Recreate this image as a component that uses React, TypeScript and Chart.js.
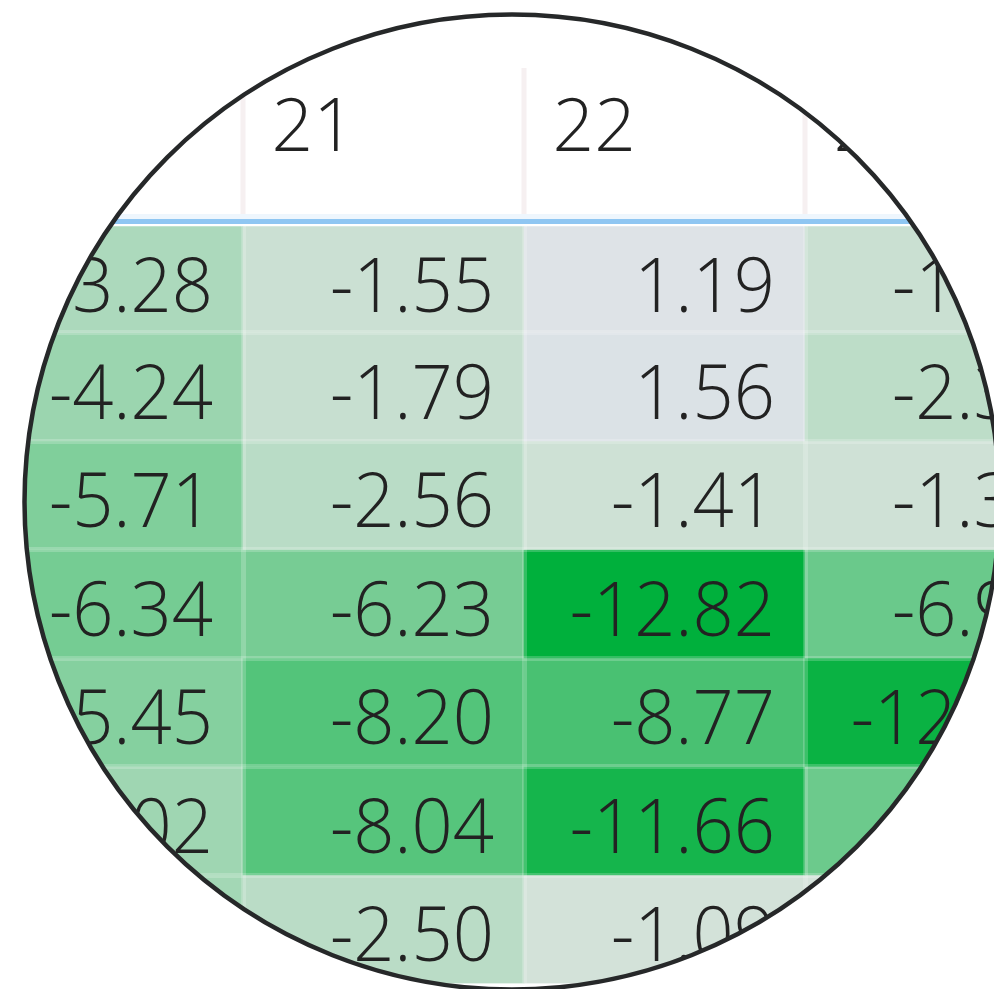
import React, { useEffect, useRef } from "react";
import { Chart, registerables } from "chart.js";

Chart.register(...registerables);

// Column headers (day numbers) and the cell values of each column, top row first
const columns = ["20", "21", "22", "23"];
const col20 = [-3.28, -4.24, -5.71, -6.34, -5.45, -4.02, -3.78];
const col21 = [-1.55, -1.79, -2.56, -6.23, -8.2, -8.04, -2.5];
const col22 = [1.19, 1.56, -1.41, -12.82, -8.77, -11.66, -1.09];
const col23 = [-1.62, -2.35, -1.31, -6.93, -12.27, -6.83, -0.98];
const columnValues = [col20, col21, col22, col23];
const rowCount = 7;

const MIN_VALUE = -12.82;
const LOW = [0, 176, 60];
const MID = [231, 231, 232];
const HIGH = [155, 201, 222];

function cellColor(v: number): string {
  const from = MID;
  let to = LOW;
  let t = 0;
  if (v < 0) {
    t = Math.min(1, v / MIN_VALUE);
    to = LOW;
  } else {
    t = Math.min(1, v / 10);
    to = HIGH;
  }
  const c = from.map((f, i) => Math.round(f + (to[i] - f) * t));
  return `rgb(${c[0]},${c[1]},${c[2]})`;
}

const FONT_FAMILY = '"Open Sans", "Noto Sans", sans-serif';
const CELL_FONT_SIZE = 76;
const HEADER_FONT_SIZE = 73;

const CANVAS_W = 1124;
const CANVAS_H = 989;
const OFFSET_X = -38;

const tablePlugin = {
  id: "tableOverlay",
  afterDatasetsDraw(chart: any) {
    const ctx = chart.ctx;
    ctx.save();
    ctx.font = `300 ${CELL_FONT_SIZE}px ${FONT_FAMILY}`;
    ctx.fillStyle = "#222222";
    ctx.textAlign = "right";
    ctx.textBaseline = "alphabetic";
    chart.data.datasets.forEach((ds: any, r: number) => {
      const meta = chart.getDatasetMeta(r);
      meta.data.forEach((bar: any, c: number) => {
        const p = bar.getProps(["x", "y", "base", "width"], true);
        const v = columnValues[c][r];
        ctx.save();
        ctx.translate(p.x + p.width / 2 - 30, (p.y + p.base) / 2 + 32);
        ctx.scale(0.95, 1);
        ctx.fillText(v.toFixed(2), 0, 0);
        ctx.restore();
      });
    });
    ctx.restore();
  },
  afterDraw(chart: any) {
    const ctx = chart.ctx;
    const area = chart.chartArea;
    const xs = chart.scales.x;
    ctx.save();
    // header column separators
    ctx.fillStyle = "#f6f0f1";
    for (let i = 0; i < columns.length - 1; i++) {
      const bx = (xs.getPixelForValue(i) + xs.getPixelForValue(i + 1)) / 2;
      ctx.fillRect(bx - 2.5, 68, 5, area.top - 10 - 68);
    }
    // header bottom rule
    ctx.fillStyle = "#eef6fd";
    ctx.fillRect(0, area.top - 10, chart.width, 5);
    ctx.fillStyle = "#8fc6f2";
    ctx.fillRect(0, area.top - 5, chart.width, 5);

    // magnifier circle
    const cx = 512 - OFFSET_X;
    const cy = 502;
    const rad = 487.5;
    ctx.beginPath();
    ctx.rect(0, 0, chart.width, chart.height);
    ctx.arc(cx, cy, rad, 0, Math.PI * 2, true);
    ctx.fillStyle = "#ffffff";
    ctx.fill("evenodd");
    ctx.beginPath();
    ctx.arc(cx, cy, rad, 0, Math.PI * 2);
    ctx.lineWidth = 4.5;
    ctx.strokeStyle = "#262829";
    ctx.stroke();
    ctx.restore();
  },
};

export default function App() {
  const canvasRef = useRef<HTMLCanvasElement | null>(null);

  useEffect(() => {
    if (!canvasRef.current) return;
    const datasets = Array.from({ length: rowCount }, (_, r) => ({
      label: `row ${r + 1}`,
      data: columns.map(() => [r, r + 1]),
      backgroundColor: columnValues.map((col) => cellColor(col[r])),
      borderWidth: 0,
      borderSkipped: false,
      grouped: false,
      barPercentage: 1,
      categoryPercentage: 1,
    }));

    const separator = "rgba(255,255,255,0.2)";
    const chart = new Chart(canvasRef.current, {
      type: "bar",
      data: { labels: columns, datasets: datasets as any },
      options: {
        animation: false,
        responsive: false,
        maintainAspectRatio: false,
        devicePixelRatio: 1,
        events: [],
        layout: { padding: { top: 36.4, bottom: 5.5, left: 0, right: 0 } },
        plugins: {
          legend: { display: false },
          tooltip: { enabled: false },
        },
        scales: {
          x: {
            type: "category",
            position: "top",
            offset: true,
            grid: {
              display: true,
              offset: true,
              color: separator,
              lineWidth: 5,
              drawTicks: false,
              z: 1,
            },
            border: { display: false },
            ticks: {
              color: "#222222",
              font: { family: FONT_FAMILY, size: HEADER_FONT_SIZE, weight: "300" },
              align: "start",
              labelOffset: -112,
              padding: 50,
              maxRotation: 0,
              autoSkip: false,
            },
          },
          y: {
            type: "linear",
            reverse: true,
            min: 0,
            max: rowCount,
            grid: {
              display: true,
              color: (c: any) =>
                c.tick && (c.tick.value === 0 || c.tick.value === rowCount) ? "rgba(0,0,0,0)" : separator,
              lineWidth: 5,
              drawTicks: false,
              z: 1,
            },
            border: { display: false },
            ticks: { display: false, stepSize: 1 },
          },
        },
      } as any,
      plugins: [tablePlugin],
    });
    return () => chart.destroy();
  }, []);

  return (
    <div
      style={{
        position: "fixed",
        left: 0,
        top: 0,
        width: 994,
        height: 989,
        overflow: "hidden",
        background: "#ffffff",
      }}
    >
      <canvas
        ref={canvasRef}
        width={CANVAS_W}
        height={CANVAS_H}
        style={{ position: "absolute", left: OFFSET_X, top: 0, width: CANVAS_W, height: CANVAS_H }}
      />
    </div>
  );
}
